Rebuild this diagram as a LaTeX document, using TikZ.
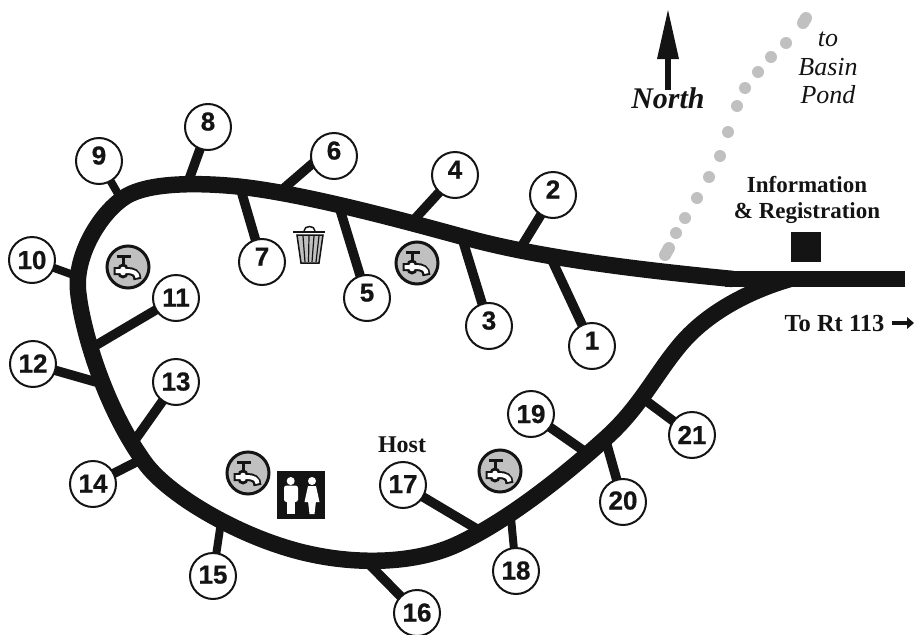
\documentclass[tikz,border=0pt]{standalone}
\usepackage{fontspec}
\setmainfont{Liberation Serif}
\newfontfamily\numfont[FakeBold=0.7]{Liberation Sans Bold}
\definecolor{ink}{HTML}{141414}
\definecolor{pale}{HTML}{C0C0C0}
\newcommand{\fs}[1]{\fontsize{#1}{#1}\selectfont}
\pgfdeclarelayer{back}
\pgfsetlayers{back,main}
\tikzset{
  x=1pt,y=-1pt,
  site/.style={circle,draw=ink,line width=2pt,fill=white,minimum size=46pt,inner sep=0pt,text height=18pt,text depth=0pt,font=\fs{26}\numfont,text=ink},
  spur/.style={draw=ink,line width=9.5pt},
  thinspur/.style={draw=ink,line width=8pt},
  road/.style={draw=ink,line width=16.5pt},
  dot/.style={fill=pale,draw=none,circle,minimum size=12pt,inner sep=0pt},
  lab/.style={text=ink,inner sep=0pt,anchor=base,align=center},
  faucet/.pic={
    \fill[pale,draw=ink,line width=3pt] (0,0) circle (21);
    \draw[ink,line width=3pt] (-11.5,-10.7) -- (2.5,-10.7);
    \draw[ink,line width=3pt] (-5,-10.7) -- (-5,-3);
    \draw[ink,line width=8pt] (-14.5,4) -- (-1,4) .. controls (5,4) and (9.5,6) .. (9.5,12.5);
    \fill[ink] (-5,2) circle (5.5);
    \fill[ink] (-5,6) circle (5.5);
    \draw[white,line width=4pt] (-12.5,4) -- (-1,4) .. controls (5,4) and (9.5,6) .. (9.5,10.5);
    \fill[white] (-5,2.5) circle (2.8);
    \fill[white] (-5,5.5) circle (2.8);
  }
}
\begin{document}
\begin{tikzpicture}
\useasboundingbox (0,0) rectangle (914,635);
% trail
\foreach \n/\p in {a/{786,43},b/{771,57},c/{758,72},d/{745,88},e/{737,106},f/{728,132},g/{720,156},h/{709,177},i/{697,198},j/{685,218},k/{676,233}}
  \node[dot] (tr\n) at (\p) {};
\node[dot] (ts1) at (806,18) {}; \node[dot] (ts2) at (803,23) {};
\node[dot] (te1) at (669,248) {}; \node[dot] (te2) at (665,255) {};
\draw[pale,line width=12pt] (ts1.center) -- (ts2.center);
\draw[pale,line width=12pt] (te1.center) -- (te2.center);
% sites
\foreach \n/\p/\dy in {1/{592,346}/5.5,2/{553,195}/5.5,3/{489,326}/5.5,4/{455,175}/5.5,5/{367,298}/5.5,6/{334,156}/5.5,7/{262,262}/5.5,8/{208,127}/5.5,9/{99,161}/5.5,10/{32,260}/0,11/{176,298}/0.5,12/{33,364}/0.5,13/{176,382}/0.5,14/{93,484}/0.5,15/{213,576}/1.5,16/{417,613}/0.5,17/{403,485}/1,18/{516,571}/0.5,19/{531,414}/0,20/{623,502}/1.5,21/{692,435}/0}
  \node[site] (s\n) at (\p) {\raisebox{\dy pt}{\n}};
% junctions on the road
\coordinate (r1) at (550,256); \coordinate (r2) at (520,249);
\coordinate (r3) at (462,238); \coordinate (r4) at (412,222);
\coordinate (r5) at (338,203); \coordinate (r6) at (283,189);
\coordinate (r7) at (240,187); \coordinate (r8) at (187,185);
\coordinate (r9) at (121,199); \coordinate (r10) at (79,277);
\coordinate (r11) at (88,350); \coordinate (r12) at (96,382);
\coordinate (r13) at (135,440); \coordinate (r14) at (140,460);
\coordinate (r15) at (221,522); \coordinate (r16) at (365,560);
\coordinate (r17) at (482,532); \coordinate (r18) at (511,518);
\coordinate (r19) at (587,453); \coordinate (r20) at (605,438);
\coordinate (r21) at (645,400);
\begin{pgfonlayer}{back}
\foreach \n in {1,2,3,4,5,7,8,11,12,13,14,16,17,19,20,21} \path[spur] (s\n.center) -- (r\n);
\path[spur] ([yshift=11pt]s6.center) -- (r6);
\path[thinspur] (s9.center) -- (r9);
\path[thinspur] (s10.center) -- (r10);
\path[thinspur] (s15.center) -- (r15);
\path[thinspur] (s18.center) -- (r18);
\draw[road] (905,279) -- (725,279);
\draw[road] (733,279)
 .. controls (640,270) and (540,258) .. (467,238)
 .. controls (410,222.5) and (300,192) .. (233,186)
 .. controls (205,183.5) and (150,181) .. (125,197)
 .. controls (100,213) and (75,255) .. (78,290)
 .. controls (81,325) and (103,405) .. (145,463)
 .. controls (170,497) and (245,540) .. (310,554)
 .. controls (355,564) and (415,565) .. (460,543)
 .. controls (510,519) and (565,475) .. (607,437)
 .. controls (640,407) and (655,375) .. (680,345)
 .. controls (705,315) and (745,292) .. (790,279);
\end{pgfonlayer}
% faucets
\pic at (128,267) {faucet};
\pic at (417,263) {faucet};
\pic at (248,473) {faucet};
\pic at (500,471) {faucet};
% restroom
\fill[ink] (277,471) rectangle (325,519);
\fill[white] (290.7,481) circle (4);
\fill[white,rounded corners=2.5pt] (284,485.5) rectangle (298,502);
\fill[white] (287,500) rectangle (294.5,514);
\fill[white] (312,481) circle (4);
\fill[white] (308,486) -- (316,486) -- (319.5,502) -- (304.5,502) -- cycle;
\fill[white] (308,501) -- (316,501) -- (314.5,514) -- (309.5,514) -- cycle;
% bin
\draw[ink,line width=1.5pt] (304,231) .. controls (304,225) and (315,225) .. (315,231);
\draw[ink,line width=2.2pt] (293,232) -- (325,232);
\fill[pale,draw=ink,line width=1.5pt] (297,235) -- (323,235) -- (319,263) -- (301,263) -- cycle;
\foreach \a/\b in {303/305,309/308.5,314/312,319/316} \draw[ink,line width=1.2pt] (\a,236) -- (\b,262);
% info square
\fill[ink] (791,232) rectangle (821,262);
% north
\coordinate (nb) at (668,90); \coordinate (nt) at (668,58);
\draw[ink,line width=5.3pt] (nb) -- (nt);
\fill[ink] (668,10) -- (679,59) -- (657,59) -- cycle;
\node[lab,font=\fs{30}\bfseries\itshape] (north) at (668,108) {North};
\node[lab,font=\fs{26}\itshape] (to) at (828,46) {to};
\node[lab,font=\fs{26}\itshape] (basin) at (828,75) {Basin};
\node[lab,font=\fs{26}\itshape] (pond) at (828,103) {Pond};
\node[lab,font=\fs{23}\bfseries] (info) at (807,192) {Information};
\node[lab,font=\fs{23}\bfseries] (reg) at (807,218) {\& Registration};
\node[lab,font=\fs{24.5}\bfseries] (rt) at (834.5,331) {To Rt 113};
\coordinate (arrowstart) at (892,323); \coordinate (arrowend) at (908,323);
\draw[ink,line width=4pt] (arrowstart) -- (arrowend);
\fill[ink] (907,317) -- (914,323) -- (907,329) -- cycle;
\node[lab,font=\fs{24}\bfseries] (host) at (402,452) {Host};
\end{tikzpicture}
\end{document}
